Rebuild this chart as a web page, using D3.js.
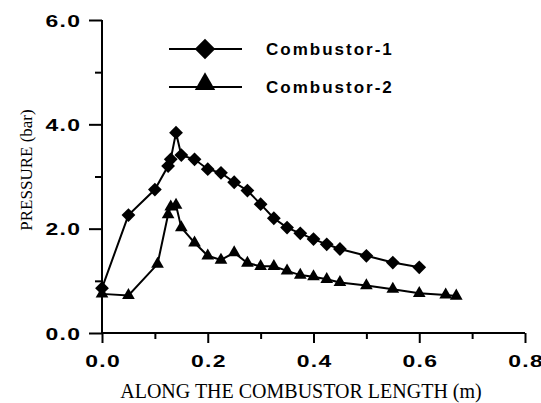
<!DOCTYPE html>
<html>
<head>
<meta charset="utf-8">
<script src="https://cdn.jsdelivr.net/npm/d3@7"></script>
<style>
  body { margin: 0; background: #fff; }
  svg { display: block; }
  .tick text { font-family: "Liberation Sans", Arial, sans-serif; font-weight: bold; font-size: 17px; letter-spacing: 1px; fill: #000; }
</style>
</head>
<body>
<div id="chart"></div>
<script>
// data
const lengthC1 = [0, 0.05, 0.1, 0.125, 0.13, 0.14, 0.15, 0.175, 0.2, 0.225, 0.25, 0.275, 0.3, 0.325, 0.35, 0.375, 0.4, 0.425, 0.45, 0.5, 0.55, 0.6];
const pressureC1 = [0.86, 2.26, 2.75, 3.2, 3.33, 3.84, 3.41, 3.33, 3.14, 3.07, 2.89, 2.73, 2.47, 2.2, 2.02, 1.91, 1.8, 1.7, 1.61, 1.48, 1.35, 1.26];
const lengthC2 = [0, 0.05, 0.105, 0.125, 0.13, 0.14, 0.15, 0.175, 0.2, 0.225, 0.25, 0.275, 0.3, 0.325, 0.35, 0.375, 0.4, 0.425, 0.45, 0.5, 0.55, 0.6, 0.65, 0.67];
const pressureC2 = [0.75, 0.72, 1.32, 2.27, 2.42, 2.45, 2.02, 1.73, 1.48, 1.4, 1.54, 1.34, 1.28, 1.28, 1.19, 1.11, 1.08, 1.03, 0.97, 0.91, 0.84, 0.76, 0.73, 0.71];
const seriesNames = ["Combustor-1", "Combustor-2"];
const xMajor = [0, 0.2, 0.4, 0.6, 0.8];
const xMinor = [0.1, 0.3, 0.5, 0.7];
const yMajor = [0, 2, 4, 6];
const yMinor = [1, 3, 5];

const W = 541, H = 403;
const stretch = 1.35; // tick labels are drawn wide in the source
const svg = d3.select('#chart').append('svg')
    .attr('width', W).attr('height', H);

const x = d3.scaleLinear().domain([0, 0.8]).range([102, 525]);
const y = d3.scaleLinear().domain([0, 6]).range([333, 20]);

// axes (major with labels, minor without)
const gx = svg.append('g').attr('transform', `translate(0,${y(0)})`)
    .call(d3.axisBottom(x).tickValues(xMajor).tickSize(10).tickPadding(12).tickFormat(d3.format('.1f')));
svg.append('g').attr('transform', `translate(0,${y(0)})`)
    .call(d3.axisBottom(x).tickValues(xMinor).tickSize(6).tickFormat(''));
const gy = svg.append('g').attr('transform', `translate(${x(0)},0)`)
    .call(d3.axisLeft(y).tickValues(yMajor).tickSize(13).tickFormat(d3.format('.1f')));
svg.append('g').attr('transform', `translate(${x(0)},0)`)
    .call(d3.axisLeft(y).tickValues(yMinor).tickSize(7).tickFormat(''));

svg.selectAll('.domain').remove();
svg.append('line').attr('x1', x(0)).attr('x2', x(0.8)).attr('y1', y(0)).attr('y2', y(0))
    .attr('stroke', '#000').attr('stroke-width', 2);
svg.append('line').attr('x1', x(0)).attr('x2', x(0)).attr('y1', y(0)).attr('y2', y(6))
    .attr('stroke', '#000').attr('stroke-width', 2);
svg.selectAll('.tick line').attr('stroke', '#000').attr('stroke-width', 2);
gx.selectAll('.tick text')
    .attr('transform', `scale(${stretch},1)`)
    .attr('dx', '0.5px');
gy.selectAll('.tick text')
    .attr('transform', `scale(${stretch},1)`)
    .attr('x', -20.6 / stretch)
    .attr('dy', '0.36em');

// axis titles
svg.append('text')
    .attr('x', 301).attr('y', 398)
    .attr('text-anchor', 'middle')
    .style('font-family', '"Liberation Serif", "Times New Roman", serif')
    .style('font-size', '20px')
    .text('ALONG THE COMBUSTOR LENGTH (m)');
svg.append('text')
    .attr('transform', 'translate(32,170) rotate(-90)')
    .attr('text-anchor', 'middle')
    .style('font-family', '"Liberation Serif", "Times New Roman", serif')
    .style('font-size', '17px')
    .text('PRESSURE (bar)');

// series
const diamond = d3.symbol().type(d3.symbolSquare);
const triangle = d3.symbol().type(d3.symbolTriangle);
const line = d3.line().x(d => x(d[0])).y(d => y(d[1]));

const s1 = d3.zip(lengthC1, pressureC1);
const s2 = d3.zip(lengthC2, pressureC2);

svg.append('path').datum(s1).attr('d', line)
    .attr('fill', 'none').attr('stroke', '#000').attr('stroke-width', 2);
svg.append('path').datum(s2).attr('d', line)
    .attr('fill', 'none').attr('stroke', '#000').attr('stroke-width', 2);

svg.selectAll('path.m1').data(s1).join('path').classed('m1', true)
    .attr('d', diamond.size(95))
    .attr('transform', d => `translate(${x(d[0])},${y(d[1])}) rotate(45)`)
    .attr('fill', '#000');
svg.selectAll('path.m2').data(s2).join('path').classed('m2', true)
    .attr('d', triangle.size(70))
    .attr('transform', d => `translate(${x(d[0])},${y(d[1])})`)
    .attr('fill', '#000');

// legend
const legY = [49, 87];
const leg = svg.append('g');
seriesNames.forEach((name, i) => {
    leg.append('line').attr('x1', 169).attr('x2', 242).attr('y1', legY[i]).attr('y2', legY[i])
        .attr('stroke', '#000').attr('stroke-width', 2);
    leg.append('path')
        .attr('d', i === 0 ? d3.symbol().type(d3.symbolSquare).size(210)() : d3.symbol().type(d3.symbolTriangle).size(180)())
        .attr('transform', i === 0 ? `translate(205,${legY[i]}) rotate(45)` : `translate(205,${legY[i] - 3})`)
        .attr('fill', '#000');
    leg.append('text')
        .attr('x', 266).attr('y', legY[i] + 6)
        .style('font-family', '"Liberation Sans", Arial, sans-serif')
        .style('font-weight', 'bold')
        .style('font-size', '17px')
        .style('letter-spacing', '2px')
        .text(name);
});
</script>
</body>
</html>
